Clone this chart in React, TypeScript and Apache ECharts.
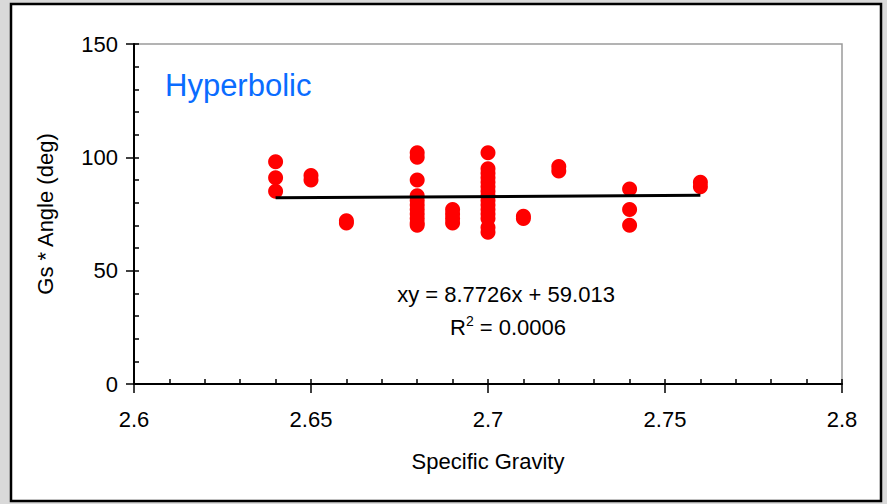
import React, { useEffect, useRef } from "react";
import * as echarts from "echarts";

// Specific gravity values (x) and the Gs*Angle readings (y) at each of them
const gravities = [2.64, 2.65, 2.66, 2.68, 2.69, 2.7, 2.71, 2.72, 2.74, 2.76];
const anglesAt264 = [98, 91, 85];
const anglesAt265 = [92, 90];
const anglesAt266 = [72, 71];
const anglesAt268 = [102, 100, 90, 83, 81, 79, 77, 75, 73, 71, 70];
const anglesAt269 = [77, 75, 73, 71];
const anglesAt270 = [102, 95, 93, 91, 89, 87, 85, 83, 81, 79, 77, 75, 73, 69, 67];
const anglesAt271 = [74, 73];
const anglesAt272 = [96, 94];
const anglesAt274 = [86, 77, 70];
const anglesAt276 = [89, 87];
const angleGroups = [
  anglesAt264, anglesAt265, anglesAt266, anglesAt268, anglesAt269,
  anglesAt270, anglesAt271, anglesAt272, anglesAt274, anglesAt276,
];

// Linear trendline (as printed on the chart)
const trendSlope = 8.7726;
const trendIntercept = 59.013;
const trendRange = [2.64, 2.76];
const rSquared = "0.0006";

const xTicks = { min: 2.6, max: 2.8, major: 0.05, minor: 0.01 };
const yTicks = { min: 0, max: 150, major: 50, minor: 10 };

const FONT = "'Liberation Sans', Arial, sans-serif";

export default function App() {
  const ref = useRef<HTMLDivElement>(null);

  useEffect(() => {
    if (!ref.current) return;
    const chart = echarts.init(ref.current, undefined, { renderer: "svg" });

    const points: number[][] = [];
    gravities.forEach((g, i) => {
      angleGroups[i].forEach((a) => points.push([g, a]));
    });
    const trend = trendRange.map((x) => [x, trendSlope * x + trendIntercept]);

    chart.setOption({
      animation: false,
      backgroundColor: "transparent",
      textStyle: { fontFamily: FONT },
      graphic: [
        {
          type: "rect",
          z: -10,
          shape: { x: 11, y: 4, width: 870, height: 497 },
          style: { fill: "#ffffff", stroke: "#000000", lineWidth: 2.5 },
        },
        {
          type: "text",
          z: 100,
          x: 165,
          y: 85,
          style: {
            text: "Hyperbolic",
            fill: "#0a6cff",
            fontSize: 31,
            fontFamily: FONT,
            textAlign: "left",
            textVerticalAlign: "middle",
          },
        },
        {
          type: "text",
          z: 100,
          x: 506,
          y: 294,
          style: {
            text: `xy = ${trendSlope}x + ${trendIntercept}`,
            fill: "#000",
            fontSize: 22,
            fontFamily: FONT,
            textAlign: "center",
            textVerticalAlign: "middle",
          },
        },
        {
          type: "text",
          z: 100,
          x: 508,
          y: 327,
          style: {
            text: `{a|R}{s|2}{a| = ${rSquared}}`,
            rich: {
              a: { fontSize: 22, fontFamily: FONT, fill: "#000", color: "#000" },
              s: { fontSize: 14, fontFamily: FONT, fill: "#000", color: "#000", verticalAlign: "top", padding: [0, 0, 12, 0] },
            },
            textAlign: "center",
            textVerticalAlign: "middle",
          },
        },
      ],
      grid: {
        left: 134,
        right: 45,
        top: 44,
        bottom: 120,
        show: true,
        backgroundColor: "#ffffff",
        borderColor: "#9a9a9a",
        borderWidth: 1.5,
      },
      xAxis: [
        {
          type: "value",
          min: xTicks.min,
          max: xTicks.max,
          interval: xTicks.major,
          position: "bottom",
          name: "Specific Gravity",
          nameLocation: "middle",
          nameGap: 66,
          nameTextStyle: { fontSize: 22, color: "#000", fontFamily: FONT },
          axisLine: { show: true, lineStyle: { color: "#000", width: 2 } },
          axisTick: { show: true, inside: false, length: 9, lineStyle: { color: "#000", width: 1.5 } },
          axisLabel: { fontSize: 22, color: "#000", margin: 24, fontFamily: FONT },
          splitLine: { show: false },
        },
        {
          type: "value",
          min: xTicks.min,
          max: xTicks.max,
          interval: xTicks.minor,
          position: "bottom",
          offset: 0,
          axisLine: { show: false },
          axisTick: { show: true, inside: true, length: 5, lineStyle: { color: "#000", width: 1.5 } },
          axisLabel: { show: false },
          splitLine: { show: false },
        },
      ],
      yAxis: [
        {
          type: "value",
          min: yTicks.min,
          max: yTicks.max,
          interval: yTicks.major,
          position: "left",
          name: "Gs * Angle (deg)",
          nameLocation: "middle",
          nameGap: 78,
          nameTextStyle: { fontSize: 22, color: "#000", fontFamily: FONT },
          axisLine: { show: true, lineStyle: { color: "#000", width: 2 } },
          axisTick: { show: true, inside: false, length: 8, lineStyle: { color: "#000", width: 1.5 } },
          axisLabel: { fontSize: 22, color: "#000", margin: 16, fontFamily: FONT },
          splitLine: { show: false },
        },
        {
          type: "value",
          min: yTicks.min,
          max: yTicks.max,
          interval: yTicks.minor,
          position: "left",
          offset: 0,
          axisLine: { show: false },
          axisTick: { show: true, inside: true, length: 5, lineStyle: { color: "#000", width: 1.5 } },
          axisLabel: { show: false },
          splitLine: { show: false },
        },
      ],
      series: [
        {
          type: "scatter",
          data: points,
          symbol: "circle",
          symbolSize: 15,
          itemStyle: { color: "#ff0000", opacity: 1 },
          z: 2,
        },
        {
          type: "line",
          data: trend,
          showSymbol: false,
          symbol: "none",
          lineStyle: { color: "#000", width: 3 },
          z: 3,
        },
      ],
    });

    return () => chart.dispose();
  }, []);

  return (
    <div
      style={{
        position: "absolute",
        left: 0,
        top: 0,
        width: 887,
        height: 504,
        background: "#d9d9d9",
      }}
    >
      <div ref={ref} style={{ width: 887, height: 504 }} />
    </div>
  );
}
